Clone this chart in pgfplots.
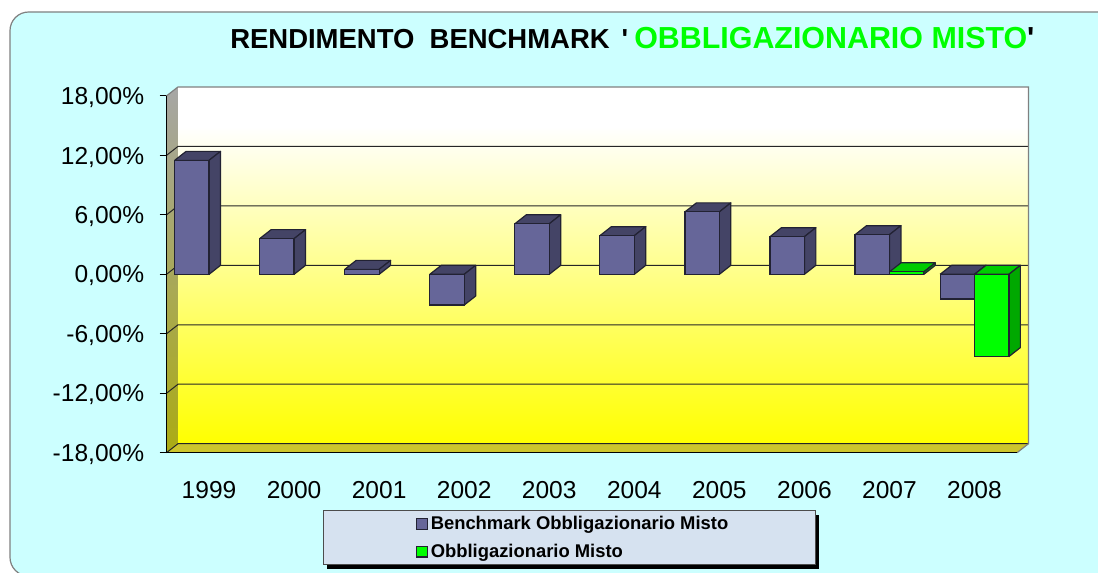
\documentclass[border=0pt]{standalone}
\usepackage{fontspec}
\setmainfont{Liberation Sans}
\usepackage{pgfplots}
\usepackage{pgfplotstable}
\pgfplotsset{compat=1.18}

\definecolor{bgcyan}{HTML}{CCFFFF}
\definecolor{benchfront}{HTML}{666699}
\definecolor{benchdark}{HTML}{444466}
\definecolor{greenfront}{HTML}{00FF00}
\definecolor{greenside}{HTML}{00A800}
\definecolor{greentop}{HTML}{00CC00}
\definecolor{edgedark}{HTML}{222233}
\definecolor{legendbg}{HTML}{D6E2F0}

% rendimento per anno (x = centro categoria)
\pgfplotstableread{
x y
0.5 11.5
1.5 3.6
2.5 0.5
3.5 -3.1
4.5 5.1
5.5 3.9
6.5 6.3
7.5 3.8
8.5 4.0
9.5 -2.5
}\bench
\pgfplotstableread{
x y
8.5 0.25
9.5 -8.3
}\misto

% facce superiore e laterale della barra 3D
\newcommand{\barfaces}[5]{%
  \pgfmathsetmacro{\xa}{#1+#3}%
  \pgfmathsetmacro{\xb}{#1+#4}%
  \pgfmathsetmacro{\xc}{\xa+0.135}%
  \pgfmathsetmacro{\xd}{\xb+0.135}%
  \pgfmathsetmacro{\yt}{max(#2,0)}%
  \pgfmathsetmacro{\yb}{min(#2,0)}%
  \pgfmathsetmacro{\ytt}{\yt+0.908}%
  \pgfmathsetmacro{\ybb}{\yb+0.908}%
  \edef\tmp{\noexpand\addplot[forget plot,sharp plot,draw=edgedark,line width=0.9pt,line join=round,fill=#5]
    coordinates {(\xa,\yt) (\xb,\yt) (\xd,\ytt) (\xc,\ytt) (\xa,\yt)};
    \noexpand\addplot[forget plot,sharp plot,draw=edgedark,line width=0.9pt,line join=round,fill=\barside]
    coordinates {(\xb,\yb) (\xb,\yt) (\xd,\ytt) (\xd,\ybb) (\xb,\yb)};}%
  \tmp
}

\begin{document}
\begin{tikzpicture}[x=0.75pt,y=0.75pt]
\path[use as bounding box,clip] (0,0) rectangle (1098,573);
\fill[white] (0,0) rectangle (1098,573);
\draw[fill=bgcyan,draw=gray,line width=0.9pt,rounded corners=14pt] (10,-3) rectangle (1125,561);
% riquadro legenda con ombra
\fill[black] (327,4) rectangle (819,58);
\draw[fill=legendbg,draw=black!70,line width=0.75pt] (323,8) rectangle (815,62);

\begin{axis}[
    at={(124.875pt,90.225pt)},
    anchor=south west,
    scale only axis,
    width=646.5pt,
    height=274.3pt,
    xmin=0, xmax=10.135,
    ymin=-18, ymax=18.908,
    clip=false,
    axis lines=left,
    axis line style={draw=none,-},
    tick align=outside,
    xtick={0.5,1.5,...,9.5},
    xticklabels={1999,2000,2001,2002,2003,2004,2005,2006,2007,2008},
    xtick style={draw=none},
    ytick={-18,-12,-6,0,6,12,18},
    yticklabels={{-18,00\%},{-12,00\%},{-6,00\%},{0,00\%},{6,00\%},{12,00\%},{18,00\%}},
    ytick style={draw=black,line width=0.75pt},
    major tick length=5.25pt,
    tick label style={font=\fontsize{18.4}{20}\selectfont},
    yticklabel style={anchor=east,xshift=-8pt,yshift=-1.2pt},
    xticklabel style={anchor=base,yshift=-29pt},
    title={\bfseries\fontsize{20.6}{24}\selectfont RENDIMENTO\ \ BENCHMARK\hspace{9pt}\textquotesingle\hspace{4.5pt}\fontsize{22.8}{24}\selectfont\textcolor{greenfront}{OBBLIGAZIONARIO MISTO}\textquotesingle},
    title style={at={(0.0737,1.083)},anchor=base west,inner sep=0pt},
    legend style={
        at={(0.289,-0.166)},anchor=north west,draw=none,fill=none,
        inner sep=0pt,row sep=5.3pt,
        font=\fontsize{13.8}{15.5}\selectfont\bfseries,
        /tikz/every even column/.append style={column sep=1pt},
    },
    legend cell align=left,
    legend image code/.code={
        \draw[#1,bar width=0pt,bar shift=0pt] (0pt,-4pt) rectangle (8.25pt,4pt);
    },
]
% pareti e pavimento
\fill[white] (axis cs:0.135,14.9) rectangle (axis cs:10.135,18.908);
\shade[top color=white,bottom color=yellow] (axis cs:0.135,-17.092) rectangle (axis cs:10.135,14.9);
\shade[top color=black!35!white,bottom color=black!30!yellow!85!gray]
    (axis cs:0,-18) -- (axis cs:0.135,-17.092) -- (axis cs:0.135,18.908) -- (axis cs:0,18) -- cycle;
\fill[black!22!yellow] (axis cs:0,-18) -- (axis cs:10,-18) -- (axis cs:10.135,-17.092) -- (axis cs:0.135,-17.092) -- cycle;

% griglia
\draw[black!85,line width=0.75pt] (axis cs:0,12) -- (axis cs:0.135,12.908) -- (axis cs:10.135,12.908);
\draw[black!85,line width=0.75pt] (axis cs:0,6) -- (axis cs:0.135,6.908) -- (axis cs:10.135,6.908);
\draw[black!85,line width=0.75pt] (axis cs:0,0) -- (axis cs:0.135,0.908) -- (axis cs:10.135,0.908);
\draw[black!85,line width=0.75pt] (axis cs:0,-6) -- (axis cs:0.135,-5.092) -- (axis cs:10.135,-5.092);
\draw[black!85,line width=0.75pt] (axis cs:0,-12) -- (axis cs:0.135,-11.092) -- (axis cs:10.135,-11.092);
\draw[black!85,line width=0.75pt] (axis cs:0,-18) -- (axis cs:0.135,-17.092) -- (axis cs:10.135,-17.092);
% bordi
\draw[gray,line width=0.9pt] (axis cs:0,18) -- (axis cs:0.135,18.908) -- (axis cs:10.135,18.908) -- (axis cs:10.135,-17.092) -- (axis cs:10,-18);
\draw[black,line width=0.9pt] (axis cs:0,18) -- (axis cs:0,-18) -- (axis cs:10,-18);

% serie 1
\def\barside{benchdark}
\pgfplotsforeachungrouped \i in {0,...,9}{%
  \pgfplotstablegetelem{\i}{x}\of\bench \let\cx\pgfplotsretval
  \pgfplotstablegetelem{\i}{y}\of\bench \let\cy\pgfplotsretval
  \barfaces{\cx}{\cy}{-0.4045}{0}{benchdark}%
}
\addplot[ybar,bar width=25.8pt,bar shift=-12.9pt,fill=benchfront,draw=edgedark,line width=0.9pt] table[x=x,y=y] {\bench};
\addlegendentry{Benchmark Obbligazionario Misto}

% serie 2
\def\barside{greenside}
\pgfplotsforeachungrouped \i in {0,1}{%
  \pgfplotstablegetelem{\i}{x}\of\misto \let\cx\pgfplotsretval
  \pgfplotstablegetelem{\i}{y}\of\misto \let\cy\pgfplotsretval
  \barfaces{\cx}{\cy}{0}{0.4045}{greentop}%
}
\addplot[ybar,bar width=25.8pt,bar shift=12.9pt,fill=greenfront,draw=edgedark,line width=0.9pt] table[x=x,y=y] {\misto};
\addlegendentry{Obbligazionario Misto}
\end{axis}
\end{tikzpicture}
\end{document}
